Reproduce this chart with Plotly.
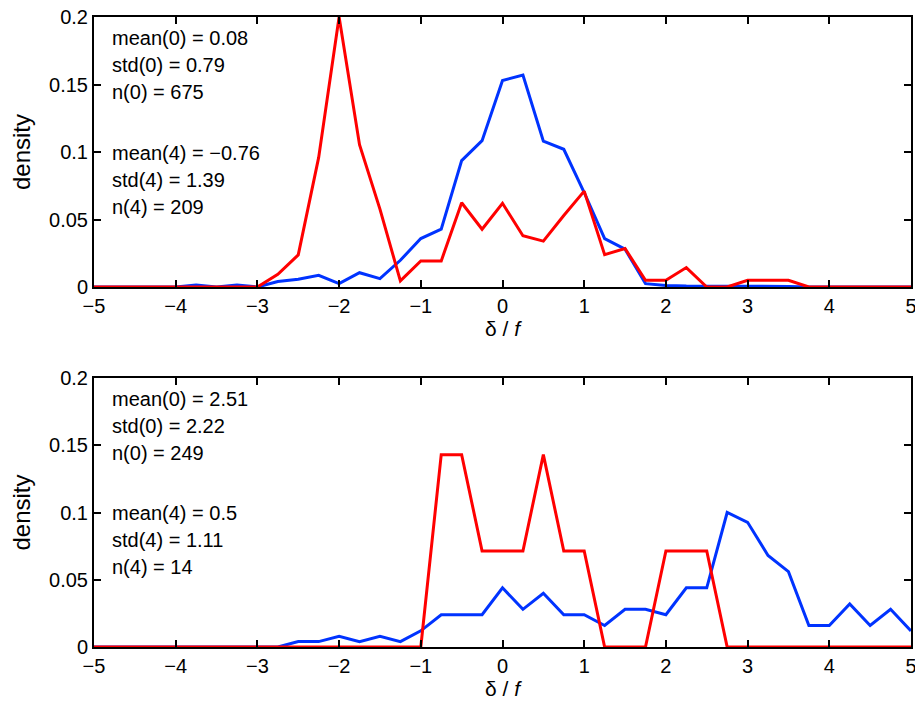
import plotly.graph_objects as go
from plotly.subplots import make_subplots

x_bins = [-5 + 0.25 * i for i in range(41)]

top_blue = [0, 0, 0, 0, 0, 0.0015, 0, 0.0015, 0,
            0.004, 0.0057, 0.0087, 0.0025, 0.0106, 0.0062, 0.0198, 0.0359, 0.0428, 0.0936, 0.1084,
            0.153, 0.157, 0.108, 0.102, 0.070, 0.0359, 0.028, 0.0025, 0.0012, 0.0007, 0.0007, 0.0004,
            0.0004, 0.0004, 0.0004, 0, 0, 0, 0, 0, 0]
top_red = [0, 0, 0, 0, 0, 0, 0, 0, 0,
           0.0094, 0.0238, 0.096, 0.2, 0.1054, 0.0577, 0.0045, 0.0193, 0.0193, 0.0624, 0.0428,
           0.062, 0.038, 0.034, 0.053, 0.071, 0.024, 0.0285, 0.005, 0.005, 0.0144, 0, 0,
           0.005, 0.005, 0.005, 0, 0, 0, 0, 0, 0]
bot_blue = [0, 0, 0, 0, 0, 0, 0, 0, 0,
            0, 0.004, 0.004, 0.008, 0.004, 0.008, 0.004, 0.012, 0.024, 0.024, 0.024,
            0.044, 0.028, 0.040, 0.024, 0.024, 0.016, 0.028, 0.028, 0.024, 0.044, 0.044, 0.100,
            0.0927, 0.068, 0.056, 0.016, 0.016, 0.032, 0.016, 0.028, 0.012]
bot_red = [0, 0, 0, 0, 0, 0, 0, 0, 0,
           0, 0, 0, 0, 0, 0, 0, 0, 0.143, 0.143, 0.0714,
           0.0714, 0.0714, 0.143, 0.0714, 0.0714, 0, 0, 0, 0.0714, 0.0714, 0.0714, 0,
           0, 0, 0, 0, 0, 0, 0, 0, 0]

top_text = ["mean(0) = 0.08", "std(0) = 0.79", "n(0) = 675",
            "mean(4) = \u22120.76", "std(4) = 1.39", "n(4) = 209"]
bot_text = ["mean(0) = 2.51", "std(0) = 2.22", "n(0) = 249",
            "mean(4) = 0.5", "std(4) = 1.11", "n(4) = 14"]
x_ticks = [-5, -4, -3, -2, -1, 0, 1, 2, 3, 4, 5]
x_tick_labels = ["\u22125", "\u22124", "\u22123", "\u22122", "\u22121", "0", "1", "2", "3", "4", "5"]
y_ticks = [0, 0.05, 0.1, 0.15, 0.2]
y_tick_labels = ["0", "0.05", "0.1", "0.15", "0.2"]

BLUE = "#0033ff"
RED = "#ff0000"
FONT = "Liberation Sans, Arial, Helvetica, sans-serif"

fig = make_subplots(rows=2, cols=1, vertical_spacing=0.0)

for row, (b, r) in enumerate([(top_blue, top_red), (bot_blue, bot_red)], start=1):
    fig.add_trace(go.Scatter(x=x_bins, y=b, mode="lines", line=dict(color=BLUE, width=3),
                             showlegend=False, cliponaxis=True), row=row, col=1)
    fig.add_trace(go.Scatter(x=x_bins, y=r, mode="lines", line=dict(color=RED, width=3),
                             showlegend=False, cliponaxis=True), row=row, col=1)

# page body has an 8px default margin, so the figure is drawn 8px in from the corner
W, H = 915, 696
plot_top, plot_bot = 9, 639
plot_h = plot_bot - plot_top
fig.update_layout(
    width=W, height=H,
    margin=dict(l=86, r=12, t=plot_top, b=H - plot_bot, autoexpand=False),
    paper_bgcolor="white", plot_bgcolor="white",
    font=dict(family=FONT, size=20, color="black"),
    yaxis=dict(domain=[(plot_bot - 279) / plot_h, 1.0]),
    yaxis2=dict(domain=[0.0, (plot_bot - 370) / plot_h]),
)

for ax in ["xaxis", "xaxis2"]:
    fig.layout[ax].update(range=[-5, 5], tickmode="array", tickvals=x_ticks, ticktext=x_tick_labels,
                          ticks="inside", ticklen=7, tickwidth=1.5, tickcolor="black",
                          showline=True, linecolor="black", linewidth=2, mirror="ticks",
                          showgrid=False, zeroline=False, automargin=False,
                          ticklabeloverflow="allow",
                          tickfont=dict(size=20, family=FONT),
                          title=dict(text="\u03b4 / <i>f</i>", font=dict(size=21, family=FONT), standoff=0))
for ax in ["yaxis", "yaxis2"]:
    fig.layout[ax].update(range=[0, 0.2], tickmode="array", tickvals=y_ticks, ticktext=y_tick_labels,
                          ticks="inside", ticklen=7, tickwidth=1.5, tickcolor="black",
                          showline=True, linecolor="black", linewidth=2, mirror="ticks",
                          showgrid=False, zeroline=False, automargin=False,
                          ticklabeloverflow="allow",
                          tickfont=dict(size=20, family=FONT),
                          title=dict(text="density", font=dict(size=24, family=FONT), standoff=12))

offsets = [21, 48, 75, 136, 163, 190]
for texts, xref, yref in [(top_text, "x domain", "y domain"), (bot_text, "x2 domain", "y2 domain")]:
    for t, off in zip(texts, offsets):
        fig.add_annotation(text=t, xref=xref, yref=yref, x=16 / 817, y=1 - off / 270,
                           xanchor="left", yanchor="middle", showarrow=False,
                           font=dict(size=20, family=FONT, color="black"))

fig.write_html("out.html")
